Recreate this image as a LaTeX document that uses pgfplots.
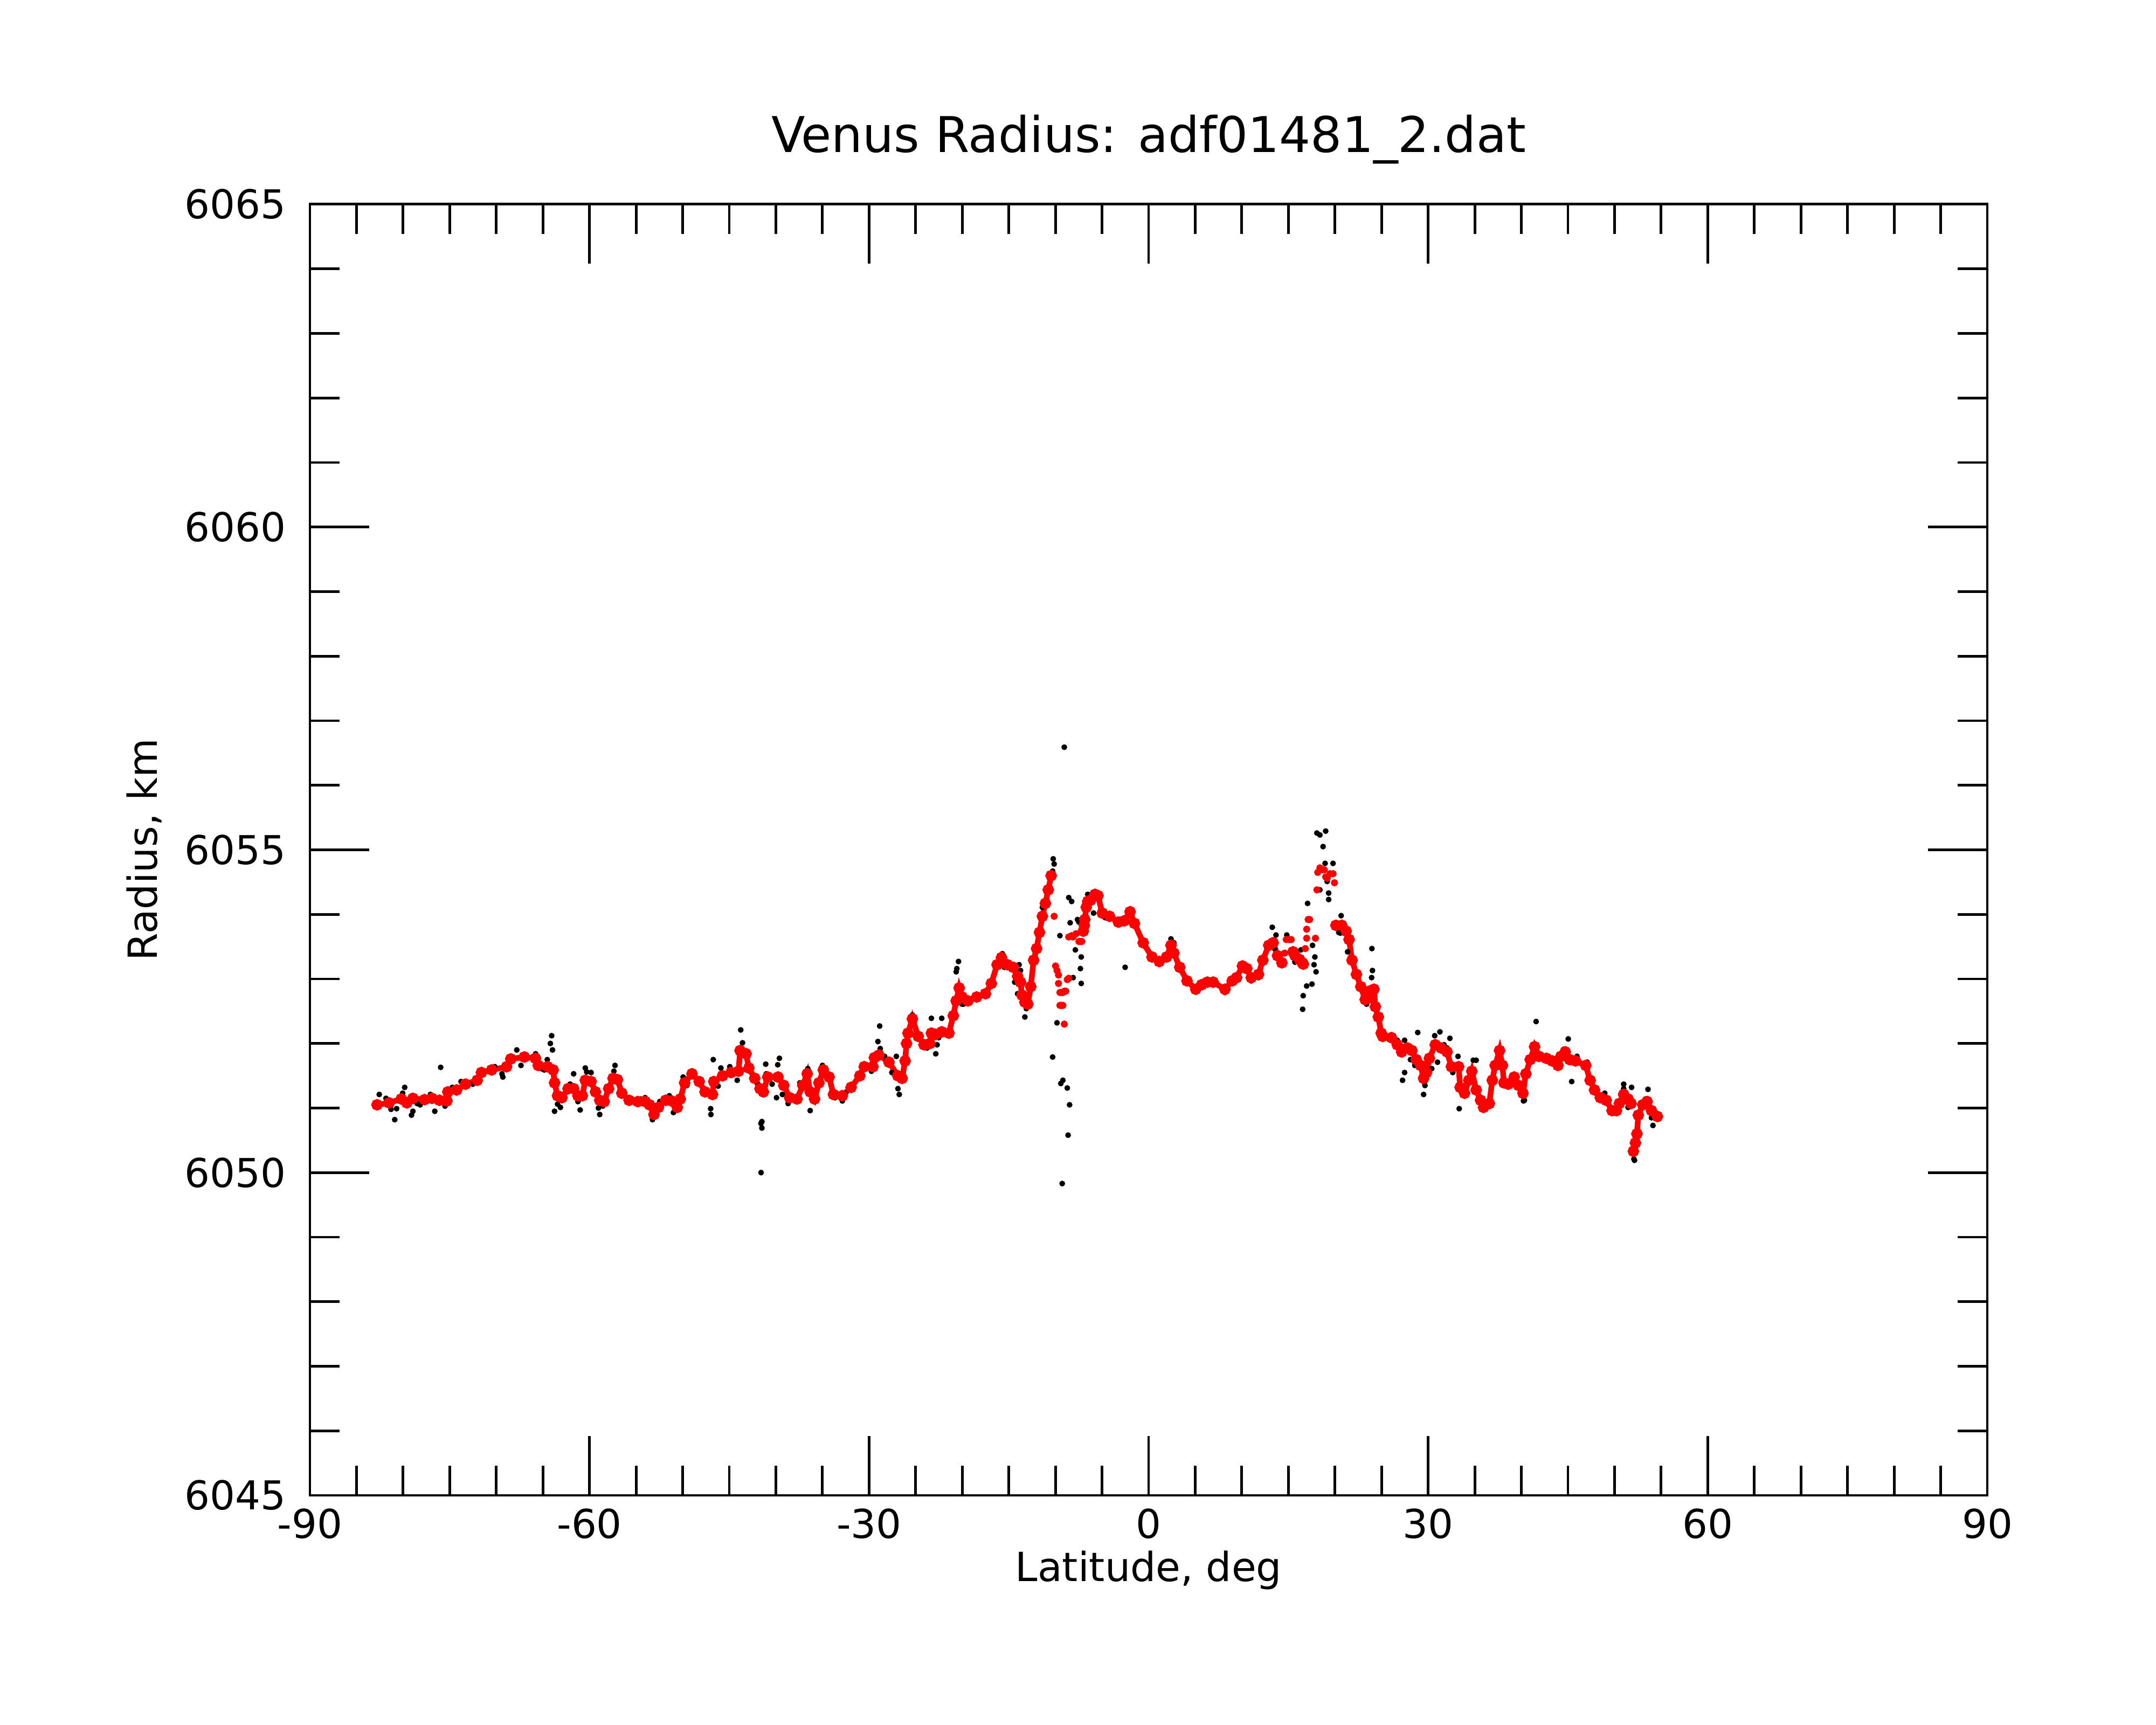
\documentclass[border=0pt]{standalone}
\usepackage{fontspec}
\setmainfont{DejaVu Sans}
\usepackage{pgfplots}
\pgfplotsset{compat=1.18}
\begin{document}
\begin{tikzpicture}
\path[use as bounding box] (0,0) rectangle (20cm,16cm);
\begin{axis}[
  at={(2.875cm,2.13cm)}, anchor=south west,
  scale only axis, width=15.56cm, height=11.975cm,
  xmin=-90, xmax=90, ymin=6045, ymax=6065,
  xtick={-90,-60,-30,0,30,60,90}, xticklabels={-90,-60,-30,0,30,60,90},
  ytick={6045,6050,6055,6060,6065}, yticklabels={6045,6050,6055,6060,6065},
  minor x tick num=5, minor y tick num=4,
  tick align=inside, tick pos=both,
  major tick length=0.55cm, minor tick length=0.275cm,
  axis line style={line width=0.7pt},
  every tick/.style={black, line width=0.7pt},
  tick label style={font=\fontsize{10.5}{12.6}\selectfont},
  yticklabel style={xshift=-0.1cm},
  title={Venus Radius: adf01481\_2.dat},
  title style={at={([yshift=0.27cm]axis description cs:0.5,1)}, anchor=base, yshift=0pt, font=\fontsize{13.0}{16}\selectfont},
  xlabel={Latitude, deg},
  xlabel style={at={([yshift=-0.80cm]axis description cs:0.5,0)}, anchor=base, font=\fontsize{10.6}{12.7}\selectfont},
  ylabel={Radius, km},
  ylabel style={at={([xshift=-1.42cm]axis description cs:0,0.5)}, anchor=base, font=\fontsize{10.6}{12.7}\selectfont},
  unbounded coords=jump,
]
% black: raw points
\addplot[only marks, mark=*, black, mark size=0.55pt] table {
x y
-82.56 6051.21
-80.9 6050.82
-79.83 6051.32
-79.1 6050.89
-76.6 6050.95
-75.97 6051.63
-75.5 6051.03
-74.72 6051.32
-67.8 6051.90
-67.35 6051.66
-69.3 6051.48
-64.06 6052.12
-64.2 6052.00
-63.97 6051.90
-64.53 6051.75
-63.75 6050.95
-63.12 6051.01
-61.7 6051.53
-61.0 6050.97
-60.45 6051.62
-59.83 6051.55
-58.9 6050.90
-57.26 6051.66
-53.24 6050.82
-50.99 6050.93
-46.72 6051.75
-46.97 6050.90
-46.2 6051.34
-43.77 6052.21
-43.58 6052.01
-44.15 6051.43
-41.6 6050.76
-41.59 6050.00
-81.84 6051.15
-81.3 6050.98
-80.7 6050.99
-80.05 6051.23
-78.95 6050.95
-78.5 6051.07
-78.17 6051.05
-77.07 6051.21
-73.78 6051.41
-72.53 6051.37
-71.43 6051.53
-70.17 6051.64
-69.39 6051.53
-68.36 6051.79
-66.88 6051.83
-65.78 6051.84
-65.16 6051.61
-64.85 6051.59
-63.43 6051.06
-62.08 6051.37
-61.24 6051.10
-60.3 6051.56
-59.04 6051.00
-58.57 6051.03
-57.38 6051.57
-55.91 6051.10
-55.44 6051.10
-54.5 6051.14
-54.03 6051.16
-52.46 6051.10
-51.43 6051.19
-49.95 6051.48
-49.54 6051.35
-47.29 6051.26
-47.0 6050.99
-45.9 6051.62
-44.94 6051.64
-44.15 6051.55
-42.74 6051.59
-42.42 6051.50
-41.95 6051.37
-41.5 6050.79
-41.5 6050.69
-41.09 6051.68
-39.62 6051.77
-39.8 6051.67
-39.93 6051.16
-36.32 6050.96
-36.57 6051.61
-35.0 6051.66
-32.87 6051.11
-28.86 6052.27
-29.05 6052.03
-28.8 6051.92
-26.76 6051.21
-26.9 6051.30
-27.07 6051.80
-25.35 6052.44
-23.31 6052.39
-22.2 6052.39
-22.84 6051.84
-22.7 6051.98
-20.4 6053.27
-20.58 6053.16
-20.65 6053.11
-20.02 6052.61
-15.69 6053.39
-13.9 6053.22
-13.75 6053.13
-14.37 6052.95
-14.06 6052.77
-13.28 6052.41
-13.12 6052.54
-11.4 6054.11
-10.24 6054.86
-10.14 6054.78
-10.3 6054.67
-9.05 6056.59
-8.57 6054.26
-8.26 6054.20
-9.52 6053.67
-9.83 6052.32
-10.3 6051.79
-9.2 6051.43
-9.42 6051.38
-8.73 6051.31
-8.48 6051.05
-8.64 6050.58
-9.27 6049.83
-8.42 6053.87
-7.63 6053.92
-7.48 6053.88
-7.86 6053.45
-7.23 6053.34
-7.32 6053.16
-8.1 6053.02
-7.23 6052.93
-6.53 6054.31
-2.52 6053.18
2.40 6053.62
-41.03 6051.53
-40.4 6051.37
-39.3 6051.21
-38.68 6051.07
-37.89 6051.12
-37.42 6051.39
-36.01 6051.14
-34.91 6051.59
-33.66 6051.16
-32.56 6051.23
-30.52 6051.68
-29.74 6051.57
-28.33 6051.80
-27.86 6051.71
-27.55 6051.55
-23.78 6051.93
-23.15 6052.00
-22.53 6052.09
-21.59 6052.14
-19.86 6052.61
-19.08 6052.66
-15.47 6053.18
-14.69 6053.16
-5.91 6054.02
-4.66 6053.95
-3.4 6053.88
0.99 6053.25
2.71 6053.56
5.06 6052.82
13.27 6053.80
13.67 6053.68
14.83 6053.68
16.34 6053.45
15.71 6053.27
17.06 6054.17
16.96 6052.89
16.59 6052.74
16.53 6052.53
17.53 6052.92
17.97 6053.11
17.84 6053.34
17.75 6053.22
17.59 6053.52
18.06 6055.26
18.38 6055.23
19.0 6055.29
18.72 6055.05
18.94 6054.79
19.79 6054.79
19.16 6054.51
19.32 6054.33
19.32 6054.23
18.38 6054.38
20.66 6053.98
20.41 6053.72
21.35 6053.42
23.96 6053.47
24.02 6053.13
23.93 6053.02
24.8 6052.43
27.25 6051.43
27.47 6051.55
28.88 6052.17
29.51 6051.21
30.7 6052.12
31.26 6052.18
32.33 6052.08
30.38 6051.61
31.0 6051.71
33.33 6050.99
34.84 6051.74
35.15 6051.74
40.23 6051.11
41.58 6052.34
45.03 6052.07
45.4 6051.41
45.97 6051.80
50.98 6051.37
51.83 6051.32
51.45 6051.01
52.14 6050.19
53.59 6051.29
54.12 6050.73
8.19 6052.79
11.01 6052.97
11.79 6053.02
13.05 6053.56
13.52 6053.47
14.14 6053.29
15.71 6053.26
16.49 6053.22
20.1 6053.79
20.57 6053.71
23.39 6052.61
25.12 6052.07
25.9 6052.09
26.68 6052.05
27.47 6052.05
27.94 6051.96
28.1 6051.75
28.57 6051.66
29.66 6051.35
30.13 6051.75
30.76 6052.02
31.7 6051.98
32.02 6051.93
32.64 6051.55
33.2 6051.80
33.9 6051.23
34.05 6051.43
35.94 6050.98
37.66 6051.91
38.29 6051.37
39.23 6051.50
40.33 6051.12
41.42 6051.99
42.36 6051.75
43.77 6051.64
44.56 6051.91
46.12 6051.73
47.06 6051.71
48.16 6051.16
48.95 6051.23
50.04 6050.94
50.98 6051.30
51.45 6051.10
52.08 6050.21
53.33 6051.14
53.96 6050.85
54.75 6050.83
};
% red: smoothed profile
\addplot[red, line width=1.5pt, mark=*, mark size=0.75pt] table {
x y
-82.8 6051.05
-81.5 6051.08
-80.2 6051.14
-79.6 6051.08
-78.95 6051.15
-77.7 6051.13
-76.9 6051.15
-76.1 6051.12
-75.3 6051.11
-75.2 6051.25
-74.25 6051.28
-73.3 6051.37
-72.05 6051.43
-71.6 6051.55
-70.5 6051.59
-68.9 6051.64
-68.45 6051.76
-67.0 6051.79
-65.8 6051.77
-65.5 6051.66
-64.5 6051.64
-63.9 6051.59
-63.75 6051.39
-63.43 6051.19
-62.96 6051.16
-62.3 6051.30
-61.7 6051.30
-61.24 6051.19
-60.77 6051.19
-60.45 6051.43
-59.83 6051.41
-59.36 6051.25
-58.9 6051.12
-58.42 6051.10
-57.94 6051.30
-57.47 6051.46
-57.0 6051.44
-56.53 6051.23
-55.75 6051.12
-54.81 6051.10
-54.03 6051.10
-53.56 6051.05
-53.08 6050.90
-52.6 6051.01
-51.83 6051.12
-51.2 6051.11
-50.58 6051.01
-50.26 6051.14
-49.79 6051.39
-49.0 6051.53
-48.23 6051.41
-47.6 6051.25
-46.8 6051.21
-46.66 6051.41
-45.72 6051.50
-44.8 6051.55
-44.0 6051.57
-43.84 6051.89
-43.2 6051.84
-42.9 6051.62
-42.27 6051.46
-41.7 6051.30
-41.34 6051.25
-40.87 6051.48
-39.77 6051.48
-39.15 6051.35
-38.52 6051.16
-37.73 6051.14
-37.11 6051.35
-36.64 6051.53
-36.32 6051.25
-35.85 6051.14
-35.38 6051.39
-34.91 6051.59
-34.29 6051.48
-33.82 6051.21
-32.87 6051.19
-31.93 6051.32
-30.99 6051.50
-30.52 6051.64
-29.58 6051.64
-29.43 6051.78
-28.95 6051.82
-27.86 6051.71
-26.92 6051.50
-26.45 6051.46
-26.13 6051.73
-25.98 6052.00
-25.82 6052.16
-25.35 6052.38
-24.72 6052.11
-24.1 6051.98
-23.47 6052.00
-23.31 6052.16
-22.84 6052.14
-22.2 6052.18
-21.43 6052.16
-20.96 6052.43
-20.65 6052.66
-20.33 6052.86
-20.02 6052.72
-19.39 6052.66
-18.45 6052.72
-17.51 6052.77
-16.88 6052.93
-16.26 6053.22
-15.79 6053.33
-15.16 6053.22
-14.53 6053.18
-14.06 6053.04
-13.75 6052.95
-13.59 6052.75
-13.28 6052.64
-12.97 6052.61
-12.65 6052.88
-12.34 6053.29
-12.02 6053.47
-11.71 6053.72
-11.4 6053.97
-11.08 6054.17
-10.77 6054.38
-10.46 6054.60
nan nan
-7.01 6053.74
-6.9 6053.83
-6.85 6053.92
-6.69 6054.11
-6.53 6054.20
-6.22 6054.22
-5.75 6054.31
-5.44 6054.29
-4.97 6054.02
-4.19 6053.97
-3.24 6053.88
-2.62 6053.90
-1.99 6054.04
-1.52 6053.86
-0.58 6053.56
0.36 6053.34
1.14 6053.27
1.93 6053.34
2.40 6053.52
2.71 6053.40
3.34 6053.18
4.12 6052.97
5.06 6052.84
5.69 6052.91
6.30 6052.95
6.93 6052.95
8.19 6052.84
8.97 6052.97
9.44 6053.02
10.07 6053.20
10.54 6053.16
11.01 6053.02
11.79 6053.07
12.26 6053.29
12.89 6053.52
13.36 6053.56
13.83 6053.36
14.3 6053.25
nan nan
15.5 6053.42
15.71 6053.36
16.2 6053.30
16.49 6053.25
16.6 6053.23
nan nan
20.1 6053.83
20.73 6053.83
21.2 6053.74
21.51 6053.61
21.83 6053.29
22.3 6053.07
22.77 6052.88
23.24 6052.68
23.55 6052.70
23.86 6052.82
24.18 6052.84
24.33 6052.57
24.65 6052.41
24.96 6052.16
25.12 6052.11
26.06 6052.09
26.68 6051.98
27.15 6051.87
27.78 6051.93
28.25 6051.89
28.72 6051.75
29.19 6051.66
29.51 6051.46
29.82 6051.55
30.13 6051.77
30.76 6051.98
31.39 6051.93
32.02 6051.87
32.49 6051.64
33.27 6051.64
33.43 6051.32
33.9 6051.23
34.37 6051.43
34.68 6051.57
35.15 6051.28
35.62 6051.12
35.94 6051.01
36.56 6051.07
36.88 6051.43
37.19 6051.66
37.66 6051.89
37.97 6051.66
38.13 6051.39
38.6 6051.37
39.23 6051.48
39.7 6051.35
40.17 6051.23
40.48 6051.53
40.95 6051.75
41.42 6051.95
41.89 6051.80
42.68 6051.77
43.3 6051.73
43.93 6051.66
44.24 6051.80
44.71 6051.87
45.18 6051.75
45.81 6051.73
46.91 6051.66
47.38 6051.43
47.85 6051.28
48.48 6051.16
49.1 6051.12
49.73 6050.96
50.2 6050.96
50.51 6051.07
50.98 6051.21
51.45 6051.14
51.77 6051.07
nan nan
52.02 6050.33
52.24 6050.46
52.4 6050.60
52.55 6050.89
53.02 6051.05
53.49 6051.10
53.96 6050.96
54.59 6050.87
};
% red: isolated smoothed points
\addplot[only marks, mark=*, red, mark size=0.75pt] table {
x y
-10.14 6053.97
-9.99 6053.20
-9.83 6053.13
-9.67 6053.06
-9.67 6052.93
-9.52 6052.79
-9.36 6052.79
-9.2 6052.79
-9.05 6052.81
-8.89 6052.81
-9.52 6052.59
-9.36 6052.59
-9.2 6052.59
-9.05 6052.30
-8.73 6052.99
-8.57 6053.01
-8.57 6053.65
-8.26 6053.67
-8.1 6053.65
-7.79 6053.70
-7.48 6053.58
-7.32 6053.58
-7.17 6053.58
14.6 6053.40
14.77 6053.61
15.08 6053.61
15.3 6053.61
16.81 6053.47
16.96 6053.77
16.96 6053.63
17.12 6053.92
17.28 6053.92
17.9 6053.63
18.06 6054.38
18.15 6054.65
18.38 6054.72
18.69 6054.69
18.85 6054.69
19.0 6054.58
19.16 6054.56
19.47 6054.63
19.79 6054.63
19.94 6054.49
};
\end{axis}
\end{tikzpicture}
\end{document}
